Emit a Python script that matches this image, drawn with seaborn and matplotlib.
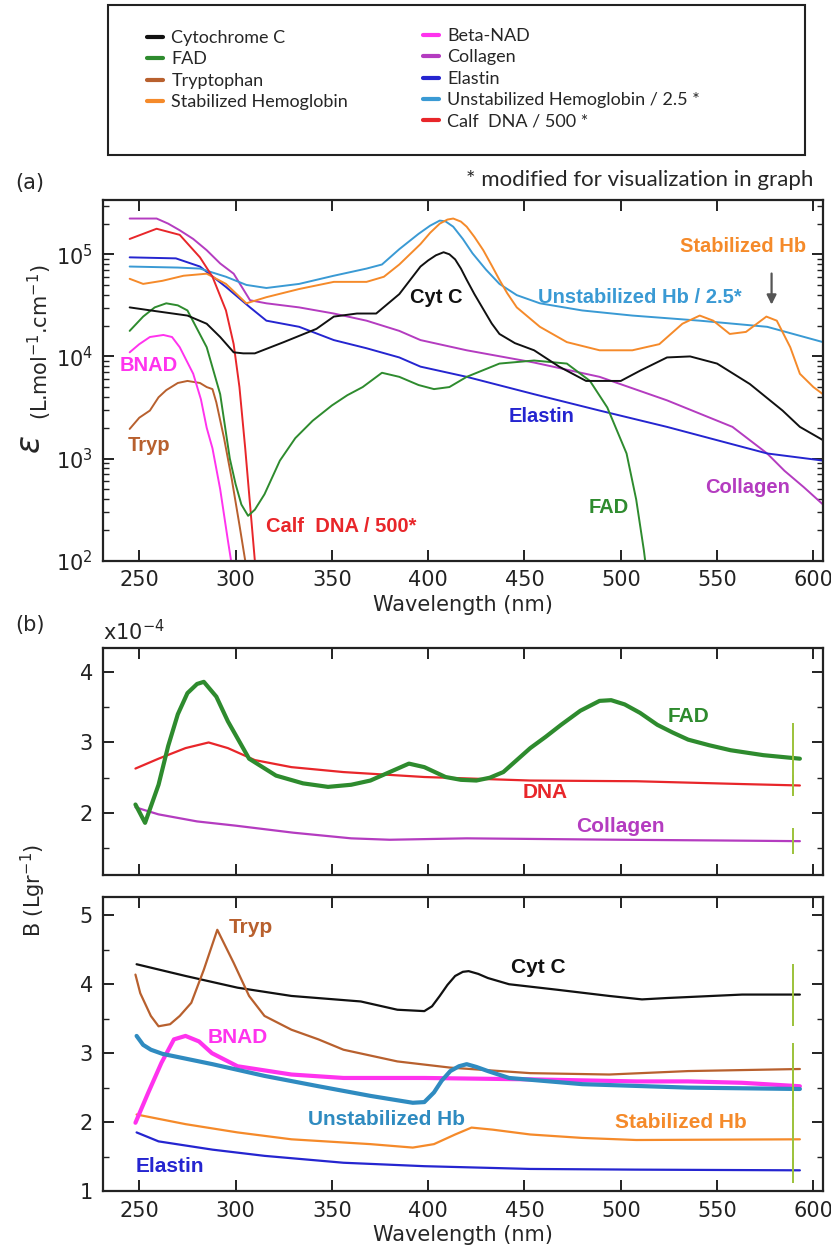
import numpy as np
import pandas as pd
import matplotlib
matplotlib.use('Agg')
import matplotlib.pyplot as plt
from matplotlib.patches import Rectangle
from matplotlib.lines import Line2D
import seaborn as sns

# ---------------- colours ----------------
C_CYT = '#111111'
C_FAD = '#2e8b2e'
C_TRYP = '#b8602e'
C_STAB = '#f58a2a'
C_BNAD = '#ff33ee'
C_COLL = '#b43cc0'
C_ELAS = '#2525d0'
C_UNST = '#3a9ad4'
C_UNST_B = '#2f8bc0'
C_DNA = '#e8262a'
C_ERR = '#9cc23a'

# ---------------- panel (a): extinction coefficient ----------------
a_cyt_wl = [245, 256, 275, 285, 292, 299, 304, 310, 325, 342, 351, 363, 373, 385, 396, 400, 404, 408, 411, 414,
            417, 420, 424, 429, 433, 437, 445, 455, 468, 482, 500, 510, 524, 536, 550, 567, 584, 593, 605]
a_cyt = [30200, 28184, 25119, 20893, 15488, 10965, 10715, 10715, 13804, 18621, 24547, 26303, 26303, 40738, 75858,
         87096, 97724, 104713, 100000, 89125, 72444, 56234, 40738, 28184, 21000, 16596, 13500, 11482, 7943, 5754,
         5754, 7244, 9772, 10000, 8511, 5370, 2951, 2042, 1514]

a_fad_wl = [245, 252, 258, 264, 270, 275, 285, 292, 297, 300, 303, 306.5, 310, 315, 323, 331, 340, 350, 358, 366,
            376, 385, 395, 403, 411, 420, 437, 455, 472, 484, 493, 503, 508, 512, 514]
a_fad = [17783, 24547, 30200, 33113, 31623, 28184, 12303, 4266, 1000, 562, 355, 275, 316, 447, 955, 1585, 2344,
         3311, 4169, 5012, 6918, 6310, 5248, 4786, 5012, 6310, 8511, 9120, 8511, 5754, 3162, 1122, 398, 126, 63]

a_tryp_wl = [245, 250, 255.5, 260, 264, 270, 275, 281.5, 285, 288, 290, 294, 298, 302, 305, 306]
a_tryp = [1950, 2512, 2951, 3981, 4677, 5495, 5754, 5495, 5012, 4786, 3548, 1585, 631, 224, 100, 70]

a_stab_wl = [245, 252, 262, 273, 285, 295, 305.6, 316, 333, 351, 368, 377, 385, 396, 401, 406, 410, 413, 417, 420,
             424, 428.6, 433, 437, 441, 446, 458, 472, 489, 506, 520, 532, 541, 548, 556.6, 565, 575.6, 581, 588,
             593, 600, 605]
a_stab = [57544, 51286, 55000, 61660, 64565, 51286, 33113, 38019, 45709, 53703, 53703, 60256, 79433, 125893,
          162181, 199526, 218776, 223872, 208930, 186209, 147911, 109648, 77625, 56234, 41687, 30200, 19498, 13804,
          11482, 11482, 13183, 20893, 25119, 22387, 16596, 17378, 24547, 22387, 12303, 6761, 5012, 4266]

a_bnad_wl = [245, 250, 255.5, 262.5, 267, 271, 278, 282, 285, 288, 292, 296, 298.5]
a_bnad = [10965, 13183, 15488, 16218, 15488, 12303, 6761, 3800, 2000, 1259, 501, 158, 79]

a_coll_wl = [245, 259, 265, 271, 278, 285, 292, 299, 307.5, 316, 333, 351, 368, 385, 396, 420, 455, 489, 524,
             558, 576, 585, 595, 605]
a_coll = [223872, 223872, 199526, 171791, 141254, 109648, 81283, 64565, 35481, 33113, 30200, 26303, 22387, 17783,
          14454, 11482, 8710, 6310, 3715, 2042, 1122, 759, 525, 355]

a_elas_wl = [245, 269, 281.5, 295, 307.5, 316, 333, 351, 368, 385, 396, 420, 455, 489, 524, 558, 576, 605]
a_elas = [93325, 91201, 75858, 47863, 30200, 22387, 19498, 14454, 12023, 9772, 7943, 6310, 4266, 2951, 2042, 1380,
          1122, 955]

a_unst_wl = [245, 270, 281.5, 295, 305.6, 316, 333, 351, 368, 376, 385, 395, 401, 406, 409, 413, 418, 423, 430,
             437, 446, 458, 480, 506, 541, 576, 605]
a_unst = [75858, 74131, 72444, 60256, 50119, 46774, 51286, 61660, 72444, 79433, 112202, 158489, 190546, 213796,
          210000, 186209, 141254, 102329, 70795, 51286, 39811, 33113, 28184, 25119, 22387, 19498, 13804]

a_dna_wl = [245, 259, 271, 281.5, 288, 295, 299, 302, 305, 307.5, 310, 311]
a_dna = [141254, 177828, 154882, 93325, 60256, 28184, 13183, 5012, 1259, 355, 100, 63]

# ---------------- panel (b): B (x1e-4 L/g) ----------------
b_fad_wl = [248, 253, 260, 265, 270, 275, 280, 283.5, 290, 296, 307, 321, 335, 348, 360, 370, 380, 390, 398, 409,
            417, 425, 432, 439, 446, 453, 461, 469, 479, 489, 495, 502, 510, 519, 527, 535, 546, 557, 574, 593]
b_fad = [2.12, 1.86, 2.4, 2.95, 3.4, 3.7, 3.83, 3.86, 3.65, 3.3, 2.77, 2.53, 2.42, 2.37, 2.40, 2.46, 2.58, 2.70,
         2.65, 2.51, 2.47, 2.46, 2.50, 2.58, 2.75, 2.92, 3.08, 3.25, 3.45, 3.59, 3.60, 3.54, 3.42, 3.25, 3.14, 3.04,
         2.96, 2.89, 2.82, 2.77]

b_dna_wl = [248, 260, 274, 286, 296, 310, 329, 356, 398, 453, 508, 563, 593]
b_dna = [2.63, 2.77, 2.92, 3.0, 2.92, 2.75, 2.65, 2.58, 2.51, 2.46, 2.45, 2.41, 2.39]

b_coll_wl = [248, 260, 280, 300, 330, 360, 380, 420, 460, 500, 550, 593]
b_coll = [2.08, 1.98, 1.88, 1.82, 1.72, 1.64, 1.62, 1.64, 1.63, 1.62, 1.61, 1.60]

b_cyt_wl = [248.6, 274, 301, 329, 365, 384, 398, 402, 406, 410, 414, 418, 421, 426, 431, 442, 467, 494, 511, 524,
            563, 593]
b_cyt = [4.29, 4.12, 3.95, 3.83, 3.75, 3.63, 3.61, 3.68, 3.83, 3.99, 4.12, 4.18, 4.19, 4.15, 4.09, 4.0, 3.92, 3.83,
         3.78, 3.80, 3.85, 3.85]

b_tryp_wl = [248, 250.5, 256, 260, 266, 271, 277, 283.5, 290.5, 299, 307, 315, 329, 343, 356, 384, 411.5, 453, 494,
             535, 593]
b_tryp = [4.14, 3.87, 3.54, 3.39, 3.42, 3.54, 3.73, 4.21, 4.79, 4.31, 3.83, 3.54, 3.34, 3.2, 3.05, 2.88, 2.79, 2.71,
          2.69, 2.74, 2.77]

b_bnad_wl = [248, 254.7, 261.5, 268, 274, 281, 287.7, 301, 329, 356, 398, 453, 508, 535, 563, 593]
b_bnad = [1.99, 2.43, 2.86, 3.2, 3.25, 3.17, 3.0, 2.81, 2.69, 2.64, 2.64, 2.62, 2.59, 2.59, 2.57, 2.52]

b_unst_wl = [248.6, 252, 256, 262, 288, 315, 343, 370, 392, 398, 403, 407, 411.5, 416, 420, 425, 431, 442, 480, 535,
             593]
b_unst = [3.25, 3.12, 3.05, 2.99, 2.84, 2.67, 2.52, 2.38, 2.28, 2.29, 2.43, 2.60, 2.74, 2.81, 2.84, 2.80, 2.74,
          2.64, 2.55, 2.50, 2.48]

b_stab_wl = [248.6, 274, 301, 329, 370, 392, 403, 414, 422.5, 433.5, 453, 480, 508, 593]
b_stab = [2.11, 1.97, 1.85, 1.75, 1.68, 1.63, 1.68, 1.82, 1.92, 1.89, 1.82, 1.77, 1.74, 1.75]

b_elas_wl = [248.6, 260, 288, 315, 356, 398, 453, 508, 593]
b_elas = [1.85, 1.72, 1.60, 1.51, 1.41, 1.36, 1.32, 1.31, 1.30]

# error bars drawn at the right end of panel (b)
err_wl = 589.5
err_top_val = [2.77, 2.39, 1.60]
err_top_err = [0.50, 0.15, 0.18]
err_bot_val = [3.85, 2.77, 2.52, 2.48, 1.75, 1.30]
err_bot_err = [0.45, 0.38, 0.30, 0.30, 0.45, 0.18]

legend_left = ['Cytochrome C', 'FAD', 'Tryptophan', 'Stabilized Hemoglobin']
legend_left_col = [C_CYT, C_FAD, C_TRYP, C_STAB]
legend_right = ['Beta-NAD', 'Collagen', 'Elastin', 'Unstabilized Hemoglobin / 2.5 *', 'Calf  DNA / 500 *']
legend_right_col = [C_BNAD, C_COLL, C_ELAS, C_UNST, C_DNA]

wl_ticks = [250, 300, 350, 400, 450, 500, 550, 600]

# ---------------- figure ----------------
sns.set_theme(style='ticks')
plt.rcParams['font.family'] = ['DejaVu Sans']
plt.rcParams['mathtext.fontset'] = 'dejavusans'

W, H = 831, 1256
fig = plt.figure(figsize=(W / 100, H / 100), dpi=100)


def box(l, t, r, b):
    return [l / W, 1 - b / H, (r - l) / W, (b - t) / H]


ax_a = fig.add_axes(box(102.7, 200, 823, 560.7))
ax_b1 = fig.add_axes(box(102.7, 648, 823, 875))
ax_b2 = fig.add_axes(box(102.7, 896.7, 823, 1191))


def curve(ax, x, y, color, lw):
    sns.lineplot(x=x, y=y, ax=ax, color=color, lw=lw, estimator=None)


# panel (a)
for x, y, c in [(a_coll_wl, a_coll, C_COLL), (a_elas_wl, a_elas, C_ELAS), (a_unst_wl, a_unst, C_UNST),
                (a_stab_wl, a_stab, C_STAB), (a_dna_wl, a_dna, C_DNA), (a_tryp_wl, a_tryp, C_TRYP),
                (a_bnad_wl, a_bnad, C_BNAD), (a_fad_wl, a_fad, C_FAD), (a_cyt_wl, a_cyt, C_CYT)]:
    curve(ax_a, x, y, c, 1.4)
ax_a.set_yscale('log')
ax_a.set_ylim(100, 3.4e5)
ax_a.set_xlim(231, 605)
ax_a.set_xticks(wl_ticks)
ax_a.set_xlabel('Wavelength (nm)', fontsize=15, labelpad=3)

ann_a = dict(fontsize=14.5, fontweight='bold', family=['Liberation Sans', 'DejaVu Sans'])
ann_b = dict(fontsize=15, fontweight='bold', family=['Liberation Sans', 'DejaVu Sans'])
ax_a.text(255, 8100, 'BNAD', color=C_BNAD, ha='center', va='center', **ann_a)
ax_a.text(255, 1350, 'Tryp', color=C_TRYP, ha='center', va='center', **ann_a)
ax_a.text(404, 38000, 'Cyt C', color=C_CYT, ha='center', va='center', **ann_a)
ax_a.text(510, 38000, 'Unstabilized Hb / 2.5*', color=C_UNST, ha='center', va='center', **ann_a)
ax_a.text(596, 120000, 'Stabilized Hb', color=C_STAB, ha='right', va='center', **ann_a)
ax_a.text(459, 2600, 'Elastin', color=C_ELAS, ha='center', va='center', **ann_a)
ax_a.text(566, 520, 'Collagen', color=C_COLL, ha='center', va='center', **ann_a)
ax_a.text(494, 330, 'FAD', color=C_FAD, ha='center', va='center', **ann_a)
ax_a.text(355, 215, 'Calf  DNA / 500*', color=C_DNA, ha='center', va='center', **ann_a)
ax_a.annotate('', xy=(578.3, 30200), xytext=(578.3, 69000),
              arrowprops=dict(arrowstyle='-|>', color='#555555', lw=1.6, mutation_scale=14))

# panel (b) top
curve(ax_b1, b_coll_wl, b_coll, C_COLL, 1.6)
curve(ax_b1, b_dna_wl, b_dna, C_DNA, 1.6)
curve(ax_b1, b_fad_wl, b_fad, C_FAD, 3.0)
ax_b1.errorbar([err_wl] * len(err_top_val), err_top_val, yerr=err_top_err, fmt='none', ecolor=C_ERR, elinewidth=1.4)
ax_b1.set_xlim(231, 605)
ax_b1.set_ylim(1.12, 4.34)
ax_b1.set_yticks([2, 3, 4])
ax_b1.set_yticks([1.5, 2.5, 3.5], minor=True)
ax_b1.set_xticks(wl_ticks)
ax_b1.set_xticklabels([])
ax_b1.text(535, 3.37, 'FAD', color=C_FAD, ha='center', va='center', **ann_b)
ax_b1.text(461, 2.29, 'DNA', color=C_DNA, ha='center', va='center', **ann_b)
ax_b1.text(500, 1.81, 'Collagen', color=C_COLL, ha='center', va='center', **ann_b)

# panel (b) bottom
curve(ax_b2, b_elas_wl, b_elas, C_ELAS, 1.6)
curve(ax_b2, b_stab_wl, b_stab, C_STAB, 1.6)
curve(ax_b2, b_cyt_wl, b_cyt, C_CYT, 1.6)
curve(ax_b2, b_tryp_wl, b_tryp, C_TRYP, 1.6)
curve(ax_b2, b_bnad_wl, b_bnad, C_BNAD, 3.0)
curve(ax_b2, b_unst_wl, b_unst, C_UNST_B, 3.0)
ax_b2.errorbar([err_wl] * len(err_bot_val), err_bot_val, yerr=err_bot_err, fmt='none', ecolor=C_ERR, elinewidth=1.4)
ax_b2.set_xlim(231, 605)
ax_b2.set_ylim(1.0, 5.27)
ax_b2.set_yticks([1, 2, 3, 4, 5])
ax_b2.set_yticks([1.5, 2.5, 3.5, 4.5], minor=True)
ax_b2.set_xticks(wl_ticks)
ax_b2.set_xlabel('Wavelength (nm)', fontsize=15, labelpad=3)
ax_b2.text(308, 4.82, 'Tryp', color=C_TRYP, ha='center', va='center', **ann_b)
ax_b2.text(457, 4.24, 'Cyt C', color=C_CYT, ha='center', va='center', **ann_b)
ax_b2.text(301, 3.22, 'BNAD', color=C_BNAD, ha='center', va='center', **ann_b)
ax_b2.text(378.5, 2.04, 'Unstabilized Hb', color=C_UNST_B, ha='center', va='center', **ann_b)
ax_b2.text(531, 1.99, 'Stabilized Hb', color=C_STAB, ha='center', va='center', **ann_b)
ax_b2.text(265.7, 1.36, 'Elastin', color=C_ELAS, ha='center', va='center', **ann_b)

for ax in (ax_a, ax_b1, ax_b2):
    ax.tick_params(which='both', direction='in', top=True, right=True, labelsize=15, colors='#222222', pad=7)
    ax.tick_params(which='major', length=8, width=1.4)
    ax.tick_params(which='minor', length=4, width=1.0)
    for s in ax.spines.values():
        s.set_linewidth(1.6)
        s.set_color('#222222')
    ax.set_ylabel('')

# texts outside the axes
fig.text(15 / W, 1 - 183 / H, '(a)', fontsize=15, va='center', ha='left')
fig.text(15 / W, 1 - 625 / H, '(b)', fontsize=15, va='center', ha='left')
fig.text(813 / W, 1 - 180 / H, '* modified for visualization in graph', fontsize=16, ha='right', va='center',
         family=['Lato', 'DejaVu Sans'])
fig.text(103 / W, 1 - 640 / H, r'x10$^{-4}$', fontsize=15, ha='left', va='baseline')
fig.text(31 / W, 1 - 445 / H, r'$\epsilon$', fontsize=24, rotation=90, ha='center', va='center')
fig.text(40 / W, 1 - 342 / H, r'(L.mol$^{-1}$.cm$^{-1}$)', fontsize=15, rotation=90, ha='center', va='center')
fig.text(33 / W, 1 - 890 / H, r'B (Lgr$^{-1}$)', fontsize=15, rotation=90, ha='center', va='center')

# legend box at the top
fig.add_artist(Rectangle((108 / W, 1 - 155 / H), 697 / W, 150 / H, transform=fig.transFigure,
                         fill=False, ec='#222222', lw=1.5))
leg_kw = dict(frameon=False, handlelength=0.9, handletextpad=0.45, labelspacing=0.3, borderpad=0,
              prop={'family': ['Lato', 'DejaVu Sans'], 'size': 13})
h_left = [Line2D([], [], color=c, lw=3) for c in legend_left_col]
h_right = [Line2D([], [], color=c, lw=3) for c in legend_right_col]
fig.legend(h_left, legend_left, loc='upper left', bbox_to_anchor=(138 / W, 1 - 21 / H), **leg_kw)
fig.legend(h_right, legend_right, loc='upper left', bbox_to_anchor=(414 / W, 1 - 19 / H), **leg_kw)

fig.savefig('out.png', dpi=100)
